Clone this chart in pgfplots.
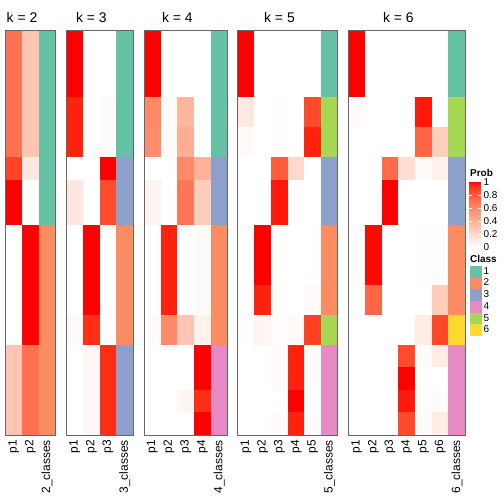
\documentclass[border=0pt]{standalone}
\usepackage{fontspec}
\setmainfont{Liberation Sans}
\usepackage{pgfplots}
\usepackage{pgfplotstable}
\pgfplotsset{compat=1.18}

\definecolor{cls1}{HTML}{66C2A5}
\definecolor{cls2}{HTML}{FC8D62}
\definecolor{cls3}{HTML}{8DA0CB}
\definecolor{cls4}{HTML}{E78AC3}
\definecolor{cls5}{HTML}{A6D854}
\definecolor{cls6}{HTML}{FFD92F}

\def\cellh{1}
\pgfdeclareplotmark{cell}{%
  \pgfpathrectanglecorners
    {\pgfpoint{-8.5bp}{-\cellh*3.75bp-0.2bp}}
    {\pgfpoint{8.5bp}{\cellh*3.75bp+0.2bp}}%
  \pgfusepathqfill}

\pgfplotsset{
  /pgf/number format/assume math mode=true,
  colormap={probred}{rgb255(0cm)=(255,255,255); rgb255(2cm)=(255,217,203); rgb255(4cm)=(255,178,153); rgb255(6cm)=(255,137,105); rgb255(8cm)=(255,91,58); rgb255(9cm)=(255,62,34); rgb255(9.5cm)=(255,42,19); rgb255(10cm)=(255,0,0)},
  every axis title/.style={anchor=base, inner sep=0pt, yshift=7.3bp, font=\fontsize{14}{16}\selectfont},
  panel/.style={
    x=16.7bp, y=7.5bp, y dir=reverse,
    xmin=0, ymin=0, ymax=54,
    enlargelimits=false, anchor=south west, axis on top,
    axis line style={draw=black!60, line width=0.9bp},
    ytick=\empty, major tick length=0pt,
    xticklabel style={yshift=-5bp, rotate=90, anchor=east, inner sep=0pt, font=\fontsize{12}{14}\selectfont},
    point meta min=0, point meta max=1, colormap name=probred,
    after end axis/.code={\draw[black!60, line width=0.9bp] (rel axis cs:0,0) rectangle (rel axis cs:1,1);},
  },
  cellplot/.style={scatter, only marks, mark=cell, forget plot,
    scatter/use mapped color={draw=none, fill=mapped color},
    visualization depends on={\thisrow{y1}-\thisrow{y0} \as \cellh}},
  classplot/.style={scatter, only marks, mark=cell, forget plot,
    point meta=explicit symbolic,
    scatter/classes={1={fill=cls1},2={fill=cls2},3={fill=cls3},4={fill=cls4},5={fill=cls5},6={fill=cls6}},
    visualization depends on={\thisrow{y1}-\thisrow{y0} \as \cellh}},
}

% k = 2
\pgfplotstableread{
y0 y1 p1 p2 c
0 17 0.70 0.30 1
17 20 0.88 0.12 1
20 26 1.00 0.00 1
26 42 0.00 1.00 2
42 54 0.30 0.70 2
}\tabB
% k = 3
\pgfplotstableread{
y0 y1 p1 p2 p3 c
0 9 1.00 0.00 0.00 1
9 17 0.96 0.00 0.02 1
17 20 0.00 0.00 1.00 3
20 26 0.12 0.00 0.85 3
26 38 0.00 1.00 0.00 2
38 42 0.03 0.94 0.00 2
42 54 0.00 0.04 0.94 3
}\tabC
% k = 4
\pgfplotstableread{
y0 y1 p1 p2 p3 p4 c
0 9 1.00 0.00 0.00 0.00 1
9 13 0.60 0.01 0.38 0.00 1
13 17 0.58 0.01 0.42 0.00 1
17 20 0.00 0.00 0.60 0.40 3
20 26 0.06 0.00 0.68 0.26 3
26 38 0.00 0.96 0.00 0.02 2
38 42 0.02 0.60 0.30 0.07 2
42 48 0.00 0.00 0.00 1.00 4
48 51 0.00 0.00 0.05 0.94 4
51 54 0.00 0.00 0.00 1.00 4
}\tabD
% k = 5
\pgfplotstableread{
y0 y1 p1 p2 p3 p4 p5 c
0 9 1.00 0.00 0.00 0.00 0.00 1
9 13 0.12 0.00 0.01 0.00 0.86 5
13 17 0.03 0.00 0.01 0.00 0.96 5
17 20 0.00 0.00 0.79 0.20 0.00 3
20 26 0.00 0.00 0.97 0.01 0.00 3
26 34 0.00 1.00 0.00 0.00 0.00 2
34 38 0.00 0.96 0.01 0.00 0.02 2
38 42 0.00 0.05 0.01 0.03 0.89 5
42 45 0.00 0.00 0.02 0.96 0.01 4
45 48 0.00 0.00 0.02 0.96 0.01 4
48 51 0.00 0.00 0.00 1.00 0.00 4
51 54 0.00 0.00 0.02 0.96 0.01 4
}\tabE
% k = 6
\pgfplotstableread{
y0 y1 p1 p2 p3 p4 p5 p6 c
0 9 1.00 0.00 0.00 0.00 0.00 0.00 1
9 13 0.02 0.00 0.00 0.00 0.97 0.00 5
13 17 0.00 0.00 0.00 0.00 0.75 0.25 5
17 20 0.00 0.00 0.73 0.17 0.02 0.07 3
20 26 0.00 0.00 1.00 0.00 0.00 0.00 3
26 34 0.00 0.99 0.00 0.00 0.01 0.01 2
34 38 0.00 0.75 0.00 0.00 0.00 0.26 2
38 42 0.00 0.00 0.00 0.00 0.10 0.87 6
42 45 0.00 0.00 0.00 0.86 0.02 0.10 4
45 48 0.00 0.00 0.00 1.00 0.00 0.00 4
48 51 0.00 0.00 0.00 0.97 0.01 0.02 4
51 54 0.00 0.00 0.00 0.86 0.02 0.10 4
}\tabF

\begin{document}
\begin{tikzpicture}
\useasboundingbox (0,0) rectangle (504bp,504bp);

% ---------- k = 2
\begin{axis}[panel, at={(5.3bp,69bp)}, xmax=3,
  xtick={0.5,1.5,2.5}, xticklabels={p1,p2,2\_classes},
  title={k = 2}, title style={at={(axis description cs:0.3333,1)}}]
\addplot[cellplot, point meta=\thisrow{p1}] table[x expr=0.5, y expr=(\thisrow{y0}+\thisrow{y1})/2]{\tabB};
\addplot[cellplot, point meta=\thisrow{p2}] table[x expr=1.5, y expr=(\thisrow{y0}+\thisrow{y1})/2]{\tabB};
\addplot[classplot] table[x expr=2.5, y expr=(\thisrow{y0}+\thisrow{y1})/2, meta=c]{\tabB};
\end{axis}

% ---------- k = 3
\begin{axis}[panel, at={(66.3bp,69bp)}, xmax=4,
  xtick={0.5,1.5,2.5,3.5}, xticklabels={p1,p2,p3,3\_classes},
  title={k = 3}, title style={at={(axis description cs:0.375,1)}}]
\addplot[cellplot, point meta=\thisrow{p1}] table[x expr=0.5, y expr=(\thisrow{y0}+\thisrow{y1})/2]{\tabC};
\addplot[cellplot, point meta=\thisrow{p2}] table[x expr=1.5, y expr=(\thisrow{y0}+\thisrow{y1})/2]{\tabC};
\addplot[cellplot, point meta=\thisrow{p3}] table[x expr=2.5, y expr=(\thisrow{y0}+\thisrow{y1})/2]{\tabC};
\addplot[classplot] table[x expr=3.5, y expr=(\thisrow{y0}+\thisrow{y1})/2, meta=c]{\tabC};
\end{axis}

% ---------- k = 4
\begin{axis}[panel, at={(144bp,69bp)}, xmax=5,
  xtick={0.5,1.5,2.5,3.5,4.5}, xticklabels={p1,p2,p3,p4,4\_classes},
  title={k = 4}, title style={at={(axis description cs:0.4,1)}}]
\addplot[cellplot, point meta=\thisrow{p1}] table[x expr=0.5, y expr=(\thisrow{y0}+\thisrow{y1})/2]{\tabD};
\addplot[cellplot, point meta=\thisrow{p2}] table[x expr=1.5, y expr=(\thisrow{y0}+\thisrow{y1})/2]{\tabD};
\addplot[cellplot, point meta=\thisrow{p3}] table[x expr=2.5, y expr=(\thisrow{y0}+\thisrow{y1})/2]{\tabD};
\addplot[cellplot, point meta=\thisrow{p4}] table[x expr=3.5, y expr=(\thisrow{y0}+\thisrow{y1})/2]{\tabD};
\addplot[classplot] table[x expr=4.5, y expr=(\thisrow{y0}+\thisrow{y1})/2, meta=c]{\tabD};
\end{axis}

% ---------- k = 5
\begin{axis}[panel, at={(237.7bp,69bp)}, xmax=6,
  xtick={0.5,1.5,2.5,3.5,4.5,5.5}, xticklabels={p1,p2,p3,p4,p5,5\_classes},
  title={k = 5}, title style={at={(axis description cs:0.41667,1)}}]
\addplot[cellplot, point meta=\thisrow{p1}] table[x expr=0.5, y expr=(\thisrow{y0}+\thisrow{y1})/2]{\tabE};
\addplot[cellplot, point meta=\thisrow{p2}] table[x expr=1.5, y expr=(\thisrow{y0}+\thisrow{y1})/2]{\tabE};
\addplot[cellplot, point meta=\thisrow{p3}] table[x expr=2.5, y expr=(\thisrow{y0}+\thisrow{y1})/2]{\tabE};
\addplot[cellplot, point meta=\thisrow{p4}] table[x expr=3.5, y expr=(\thisrow{y0}+\thisrow{y1})/2]{\tabE};
\addplot[cellplot, point meta=\thisrow{p5}] table[x expr=4.5, y expr=(\thisrow{y0}+\thisrow{y1})/2]{\tabE};
\addplot[classplot] table[x expr=5.5, y expr=(\thisrow{y0}+\thisrow{y1})/2, meta=c]{\tabE};
\end{axis}

% ---------- k = 6
\begin{axis}[panel, at={(348.3bp,69bp)}, xmax=7,
  xtick={0.5,1.5,2.5,3.5,4.5,5.5,6.5}, xticklabels={p1,p2,p3,p4,p5,p6,6\_classes},
  title={k = 6}, title style={at={(axis description cs:0.42857,1)}},
  colorbar,
  colorbar style={
    at={(parent axis.north east)}, anchor=north west,
    xshift=-4.4bp, yshift=-151.7bp,
    width=11.4bp, height=65.6bp, scale only axis,
    ytick={0,0.2,0.4,0.6,0.8,1},
    yticklabel pos=right,
    major tick length=2.5bp,
    tick align=inside,
    every tick/.style={draw=white, line width=0.6bp},
    axis line style={draw=none},
    yticklabel style={font=\fontsize{10}{12}\selectfont, inner sep=0pt, xshift=2.6bp},
  },
  legend image code/.code={\fill[#1] (0bp,-5.35bp) rectangle (10.7bp,5.35bp);},
  legend cell align=left,
  legend style={at={(1.0411,0.4173)}, anchor=north west, draw=none, fill=none,
    inner sep=0pt, outer sep=0pt, row sep=0.6bp, column sep=2.6bp,
    font=\fontsize{10}{12}\selectfont, nodes={inner sep=0pt, outer sep=0pt}},
  ]
\addlegendimage{cls1}\addlegendentry{1}
\addlegendimage{cls2}\addlegendentry{2}
\addlegendimage{cls3}\addlegendentry{3}
\addlegendimage{cls4}\addlegendentry{4}
\addlegendimage{cls5}\addlegendentry{5}
\addlegendimage{cls6}\addlegendentry{6}
\addplot[cellplot, point meta=\thisrow{p1}] table[x expr=0.5, y expr=(\thisrow{y0}+\thisrow{y1})/2]{\tabF};
\addplot[cellplot, point meta=\thisrow{p2}] table[x expr=1.5, y expr=(\thisrow{y0}+\thisrow{y1})/2]{\tabF};
\addplot[cellplot, point meta=\thisrow{p3}] table[x expr=2.5, y expr=(\thisrow{y0}+\thisrow{y1})/2]{\tabF};
\addplot[cellplot, point meta=\thisrow{p4}] table[x expr=3.5, y expr=(\thisrow{y0}+\thisrow{y1})/2]{\tabF};
\addplot[cellplot, point meta=\thisrow{p5}] table[x expr=4.5, y expr=(\thisrow{y0}+\thisrow{y1})/2]{\tabF};
\addplot[cellplot, point meta=\thisrow{p6}] table[x expr=5.5, y expr=(\thisrow{y0}+\thisrow{y1})/2]{\tabF};
\addplot[classplot] table[x expr=6.5, y expr=(\thisrow{y0}+\thisrow{y1})/2, meta=c]{\tabF};
\end{axis}

\node[anchor=base west, inner sep=0pt, font=\bfseries\fontsize{10}{12}\selectfont] at (470bp,327.3bp) {Prob};
\node[anchor=base west, inner sep=0pt, font=\bfseries\fontsize{10}{12}\selectfont] at (470bp,241.3bp) {Class};
\end{tikzpicture}
\end{document}
